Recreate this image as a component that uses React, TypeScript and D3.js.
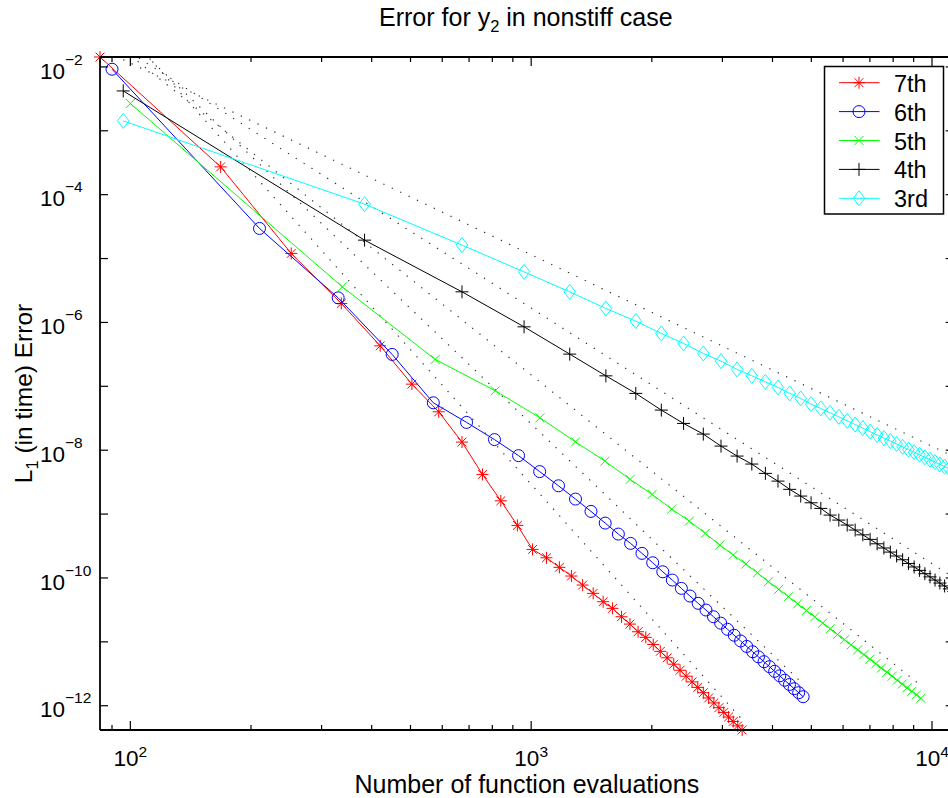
import React from "react";
import * as d3 from "d3";

// ---------------- data ----------------
const seriesNames = ["7th", "6th", "5th", "4th", "3rd"];

const evals7th = [84, 168, 252, 336, 420, 504, 588, 672, 756, 840, 924, 1008, 1092, 1176, 1260, 1344, 1428, 1512, 1596, 1680, 1764, 1848, 1932, 2016, 2100, 2184, 2268, 2352, 2436, 2520, 2604, 2688, 2772, 2856, 2940, 3024, 3108, 3192, 3276, 3360];
const error7th = [1.429e-2, 2.723e-4, 1.202e-5, 1.982e-6, 4.305e-7, 1.081e-7, 3.99e-8, 1.34e-8, 4.178e-9, 1.614e-9, 6.653e-10, 2.799e-10, 2.07e-10, 1.466e-10, 1.072e-10, 7.745e-11, 5.741e-11, 4.246e-11, 3.342e-11, 2.472e-11, 1.897e-11, 1.439e-11, 1.175e-11, 9.078e-12, 7.096e-12, 5.623e-12, 4.467e-12, 3.589e-12, 2.897e-12, 2.36e-12, 1.936e-12, 1.6e-12, 1.324e-12, 1.107e-12, 9.311e-13, 7.852e-13, 6.653e-13, 5.662e-13, 4.842e-13, 4.169e-13];

const evals6th = [90, 210, 330, 450, 570, 690, 810, 930, 1050, 1170, 1290, 1410, 1530, 1650, 1770, 1890, 2010, 2130, 2250, 2370, 2490, 2610, 2730, 2850, 2970, 3090, 3210, 3330, 3450, 3570, 3690, 3810, 3930, 4050, 4170, 4290, 4410, 4530, 4650, 4770];
const error6th = [9.204e-3, 2.958e-5, 2.427e-6, 3.155e-7, 5.521e-8, 2.723e-8, 1.466e-8, 8.222e-9, 4.624e-9, 2.773e-9, 1.718e-9, 1.102e-9, 7.228e-10, 4.864e-10, 3.475e-10, 2.427e-10, 1.73e-10, 1.25e-10, 9.268e-11, 6.871e-11, 5.212e-11, 4.009e-11, 3.148e-11, 2.472e-11, 1.963e-11, 1.57e-11, 1.268e-11, 1.033e-11, 8.472e-12, 6.998e-12, 5.821e-12, 4.887e-12, 4.093e-12, 3.451e-12, 2.938e-12, 2.506e-12, 2.148e-12, 1.845e-12, 1.6e-12, 1.384e-12];

const evals5th = [100, 338, 576, 814, 1052, 1290, 1528, 1766, 2004, 2242, 2480, 2718, 2956, 3194, 3432, 3670, 3908, 4146, 4384, 4622, 4860, 5098, 5336, 5574, 5812, 6050, 6288, 6526, 6764, 7002, 7240, 7478, 7716, 7954, 8192, 8430, 8668, 8906, 9144, 9382];
const error5th = [2.673e-3, 3.606e-6, 2.636e-7, 8.511e-8, 3.214e-8, 1.352e-8, 6.745e-9, 3.491e-9, 2.032e-9, 1.197e-9, 7.762e-10, 4.989e-10, 3.273e-10, 2.28e-10, 1.648e-10, 1.205e-10, 8.73e-11, 6.637e-11, 5.082e-11, 3.936e-11, 3.097e-11, 2.455e-11, 1.963e-11, 1.596e-11, 1.306e-11, 1.079e-11, 8.954e-12, 7.464e-12, 6.31e-12, 5.346e-12, 4.539e-12, 3.89e-12, 3.342e-12, 2.897e-12, 2.506e-12, 2.188e-12, 1.914e-12, 1.679e-12, 1.476e-12, 1.306e-12];

const evals4th = [96, 384, 672, 960, 1248, 1536, 1824, 2112, 2400, 2688, 2976, 3264, 3552, 3840, 4128, 4416, 4704, 4992, 5280, 5568, 5856, 6144, 6432, 6720, 7008, 7296, 7584, 7872, 8160, 8448, 8736, 9024, 9312, 9600, 9888, 10176, 10464, 10752, 11040, 11328];
const error4th = [4.207e-3, 1.941e-5, 3.013e-6, 8.531e-7, 3.192e-7, 1.459e-7, 7.745e-8, 4.246e-8, 2.624e-8, 1.786e-8, 1.159e-8, 8.091e-9, 6.067e-9, 4.335e-9, 3.281e-9, 2.438e-9, 1.914e-9, 1.503e-9, 1.227e-9, 9.638e-10, 8.054e-10, 6.73e-10, 5.623e-10, 4.732e-10, 4.018e-10, 3.428e-10, 2.944e-10, 2.541e-10, 2.208e-10, 1.928e-10, 1.687e-10, 1.486e-10, 1.315e-10, 1.167e-10, 1.04e-10, 9.268e-11, 8.318e-11, 7.499e-11, 6.745e-11, 6.109e-11];

const evals3rd = [96, 384, 672, 960, 1248, 1536, 1824, 2112, 2400, 2688, 2976, 3264, 3552, 3840, 4128, 4416, 4704, 4992, 5280, 5568, 5856, 6144, 6432, 6720, 7008, 7296, 7584, 7872, 8160, 8448, 8736, 9024, 9312, 9600, 9888, 10176, 10464, 10752, 11040, 11328];
const error3rd = [1.429e-3, 7.096e-5, 1.622e-5, 6.194e-6, 3.013e-6, 1.656e-6, 1.047e-6, 6.73e-7, 4.688e-7, 3.273e-7, 2.477e-7, 1.837e-7, 1.459e-7, 1.175e-7, 9.594e-8, 7.745e-8, 6.471e-8, 5.26e-8, 4.508e-8, 3.846e-8, 3.334e-8, 2.884e-8, 2.523e-8, 2.218e-8, 1.954e-8, 1.734e-8, 1.552e-8, 1.393e-8, 1.25e-8, 1.13e-8, 1.021e-8, 9.311e-9, 8.472e-9, 7.745e-9, 7.096e-9, 6.516e-9, 5.998e-9, 5.534e-9, 5.129e-9, 4.764e-9];

// dotted reference lines: slope (order) and error value at N = 1000
const refOrders = [7, 6, 5, 4, 3];
const refErrorAt1000 = [2.93e-9, 2.58e-8, 1.507e-7, 1.67e-6, 1.15e-5];

const xTickExponents = [2, 3, 4];
const yTickExponents = [-2, -3, -4, -5, -6, -7, -8, -9, -10, -11, -12];
const yLabelExponents = [-2, -4, -6, -8, -10, -12];

// ---------------- styles ----------------
const W = 948;
const H = 798;
const M = { left: 100, right: 953.7, top: 57, bottom: 730 };
const colors = ["#ff0000", "#0000ff", "#00ff00", "#000000", "#00ffff"];
const markerKinds = ["star", "circle", "x", "plus", "diamond"];
const FONT = "'Liberation Sans', Arial, Helvetica, sans-serif";

function Marker({ kind, color, cx, cy }: { kind: string; color: string; cx: number; cy: number }) {
  const common = { fill: "none", stroke: color, strokeWidth: 1 };
  if (kind === "circle") return <circle cx={cx} cy={cy} r={6} {...common} />;
  let d = "";
  if (kind === "star") {
    const s = 6, q = 4.4;
    d = `M${-s},0H${s}M0,${-s}V${s}M${-q},${-q}L${q},${q}M${-q},${q}L${q},${-q}`;
  } else if (kind === "x") {
    const s = 4.5;
    d = `M${-s},${-s}L${s},${s}M${-s},${s}L${s},${-s}`;
  } else if (kind === "plus") {
    const s = 6.5;
    d = `M${-s},0H${s}M0,${-s}V${s}`;
  } else if (kind === "diamond") {
    d = `M0,-7.5L5.8,0L0,7.5L-5.8,0Z`;
  }
  return <path d={d} transform={`translate(${cx},${cy})`} {...common} />;
}

export default function App() {
  const evals = [evals7th, evals6th, evals5th, evals4th, evals3rd];
  const errors = [error7th, error6th, error5th, error4th, error3rd];
  const series = seriesNames.map((name, i) => ({
    name,
    color: colors[i],
    marker: markerKinds[i],
    pts: evals[i].map((n, j) => [n, errors[i][j]] as [number, number]),
  }));

  const allN = evals.flat();
  const allE = errors.flat();
  const x = d3.scaleLog().domain(d3.extent(allN) as [number, number]).range([M.left, M.right]);
  const y = d3.scaleLog().domain(d3.extent(allE) as [number, number]).range([M.bottom, M.top]);

  const line = d3
    .line<[number, number]>()
    .x((d) => x(d[0]))
    .y((d) => y(d[1]));

  const refs = refOrders.map((p, i) => {
    const ns = evals[i];
    const n0 = ns[0];
    const n1 = ns[ns.length - 1];
    const f = (n: number) => refErrorAt1000[i] * Math.pow(n / 1000, -p);
    return [
      [n0, f(n0)],
      [n1, f(n1)],
    ] as [number, number][];
  });

  // minor x ticks
  const [xmin, xmax] = x.domain();
  const xMinor: number[] = [];
  for (let e = 1; e <= 4; e++) {
    for (let m = 2; m <= 9; m++) {
      const v = m * Math.pow(10, e);
      if (v >= xmin && v <= xmax) xMinor.push(v);
    }
  }
  const xMajor = xTickExponents.map((e) => Math.pow(10, e));
  const yMajor = yTickExponents.map((e) => Math.pow(10, e));

  const axisColor = "#000";
  const axisW = 1.8;

  const legend = { x0: 824.5, y0: 66.5, w: 119, h: 147.5, row0: 82.7, rowH: 28.9 };

  return (
    <div style={{ position: "absolute", left: 0, top: 0, width: W, height: H, background: "#fff" }}>
      <svg width={W} height={H} viewBox={`0 0 ${W} ${H}`} style={{ display: "block", fontFamily: FONT }}>
        <defs>
          <clipPath id="plotArea">
            <rect x={M.left} y={M.top} width={M.right - M.left} height={M.bottom - M.top} />
          </clipPath>
        </defs>
        <rect x={0} y={0} width={W} height={H} fill="#fff" />

        {/* reference dotted lines */}
        <g clipPath="url(#plotArea)">
          {refs.map((r, i) => (
            <path
              key={"ref" + i}
              d={line(r) || ""}
              fill="none"
              stroke="#000"
              strokeWidth={1.2}
              strokeDasharray="1.3 8"
              opacity={0.8}
            />
          ))}
        </g>

        {/* series */}
        {series.map((s) => (
          <g key={s.name}>
            <path d={line(s.pts) || ""} fill="none" stroke={s.color} strokeWidth={1} />
            {s.pts.map((p, j) => (
              <Marker key={j} kind={s.marker} color={s.color} cx={x(p[0])} cy={y(p[1])} />
            ))}
          </g>
        ))}

        {/* axes box */}
        <g stroke={axisColor} strokeWidth={axisW} fill="none">
          <line x1={M.left} x2={M.right} y1={M.top} y2={M.top} />
          <line x1={M.left} x2={M.right} y1={M.bottom} y2={M.bottom} />
          <line x1={M.left} x2={M.left} y1={M.top} y2={M.bottom} />
          <line x1={M.right} x2={M.right} y1={M.top} y2={M.bottom} />
        </g>

        {/* ticks */}
        <g stroke={axisColor} strokeWidth={1.2}>
          {xMajor.map((v) => (
            <g key={"xM" + v}>
              <line x1={x(v)} x2={x(v)} y1={M.bottom} y2={M.bottom - 9} />
              <line x1={x(v)} x2={x(v)} y1={M.top} y2={M.top + 9} />
            </g>
          ))}
          {xMinor.map((v) => (
            <g key={"xm" + v}>
              <line x1={x(v)} x2={x(v)} y1={M.bottom} y2={M.bottom - 5} />
              <line x1={x(v)} x2={x(v)} y1={M.top} y2={M.top + 5} />
            </g>
          ))}
          {yMajor.map((v) => (
            <g key={"yM" + v}>
              <line x1={M.left} x2={M.left + 8} y1={y(v)} y2={y(v)} />
              <line x1={M.right} x2={M.right - 8} y1={y(v)} y2={y(v)} />
            </g>
          ))}
        </g>

        {/* x tick labels */}
        {xTickExponents.map((e) => (
          <text key={"xl" + e} x={x(Math.pow(10, e))} y={766} textAnchor="middle" fontSize={22.5} fill="#000">
            10
            <tspan fontSize={15.5} dy={-9.5}>
              {String(e)}
            </tspan>
          </text>
        ))}

        {/* y tick labels */}
        {yLabelExponents.map((e) => (
          <text key={"yl" + e} x={40} y={y(Math.pow(10, e)) + 11.6} textAnchor="start" fontSize={22.5} fill="#000">
            10
            <tspan fontSize={15.5} dy={-14}>
              {"\u2212" + String(-e)}
            </tspan>
          </text>
        ))}

        {/* title */}
        <text x={(M.left + M.right) / 2 - 1} y={26} textAnchor="middle" fontSize={25} fill="#000">
          Error for y
          <tspan fontSize={16.5} dy={6}>
            2
          </tspan>
          <tspan dy={-6}> in nonstiff case</tspan>
        </text>

        {/* x label */}
        <text x={(M.left + M.right) / 2} y={793} textAnchor="middle" fontSize={25} fill="#000">
          Number of function evaluations
        </text>

        {/* y label */}
        <text
          transform={`translate(32, ${(M.top + M.bottom) / 2}) rotate(-90)`}
          textAnchor="middle"
          fontSize={24.5}
          fill="#000"
        >
          L
          <tspan fontSize={16.5} dy={6}>
            1
          </tspan>
          <tspan dy={-6}> (in time) Error</tspan>
        </text>

        {/* legend */}
        <g>
          <rect x={legend.x0} y={legend.y0} width={legend.w} height={legend.h} fill="#fff" stroke="#000" strokeWidth={1.5} />
          {series.map((s, i) => {
            const cy = legend.row0 + i * legend.rowH;
            return (
              <g key={"lg" + s.name}>
                <line x1={839} x2={879.5} y1={cy} y2={cy} stroke={s.color} strokeWidth={1} />
                <Marker kind={s.marker} color={s.color} cx={859} cy={cy} />
                <text x={894} y={cy + 9} fontSize={23.5} fill="#000">
                  {s.name}
                </text>
              </g>
            );
          })}
        </g>
      </svg>
    </div>
  );
}
